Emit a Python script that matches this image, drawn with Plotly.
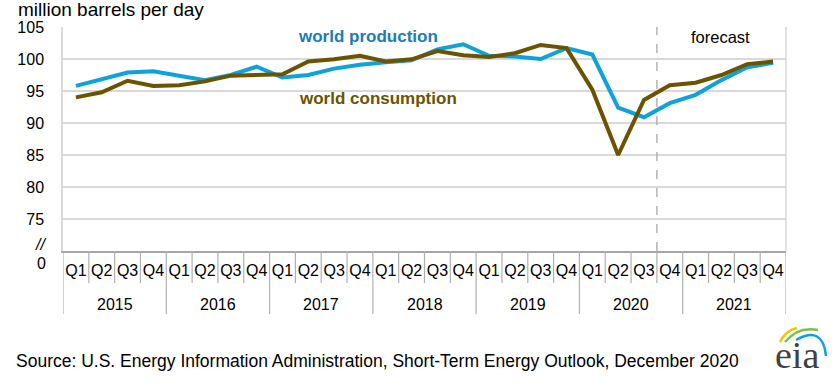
import plotly.graph_objects as go

years = ["2015", "2016", "2017", "2018", "2019", "2020", "2021"]
quarters = ["Q1", "Q2", "Q3", "Q4"]
production = [95.8, 96.9, 97.9, 98.1, 97.4, 96.7, 97.5, 98.8,
              97.1, 97.5, 98.5, 99.1, 99.5, 99.8, 101.5, 102.3,
              100.5, 100.4, 100.0, 101.7, 100.7, 92.4, 90.9, 93.1,
              94.4, 96.7, 98.7, 99.4]
consumption = [94.0, 94.8, 96.6, 95.8, 95.9, 96.5, 97.4, 97.5,
               97.6, 99.6, 99.95, 100.5, 99.6, 99.95, 101.25, 100.6,
               100.3, 100.9, 102.2, 101.7, 95.2, 85.0, 93.6, 95.9,
               96.3, 97.5, 99.2, 99.6]
y_ticks = [75, 80, 85, 90, 95, 100, 105]
forecast_start = 23  # index of first forecast quarter (2020 Q4)

W, H = 832, 387
ML, MR, MT, MB = 63, 46, 27, 136
PW, PH = W - ML - MR, H - MT - MB

def px(x):
    return (x - ML) / PW

def py(y):
    return (H - MB - y) / PH

n = len(years) * len(quarters)
x_idx = list(range(n))
q_labels = [q for _ in years for q in quarters]

BLUE = "#0ea2dc"
BROWN = "#6b5300"
FONT = "Liberation Sans, Arial, sans-serif"

fig = go.Figure()
fig.add_trace(go.Scatter(x=x_idx, y=production, mode="lines",
                         line=dict(color=BLUE, width=4), name="world production",
                         hoverinfo="skip"))
fig.add_trace(go.Scatter(x=x_idx, y=consumption, mode="lines",
                         line=dict(color=BROWN, width=4), name="world consumption",
                         hoverinfo="skip"))

shapes = []
for k in range(n + 1):
    xb = k - 0.5
    y1 = py(314) if k % 4 == 0 else py(283)
    shapes.append(dict(type="line", xref="x", yref="paper", x0=xb, x1=xb,
                       y0=0, y1=y1, line=dict(color="#b0b0b0", width=1.2)))
shapes.append(dict(type="line", xref="x", yref="paper",
                   x0=forecast_start - 0.5, x1=forecast_start - 0.5, y0=0, y1=1,
                   line=dict(color="#b4b4b4", width=1.5, dash="dash")))
shapes.append(dict(type="line", xref="paper", yref="paper", x0=1, x1=1, y0=0, y1=1,
                   line=dict(color="#d9d9d9", width=1.5)))

# EIA logo arcs
shapes.append(dict(type="path", xref="paper", yref="paper",
                   path=f"M {px(780)},{py(342)} Q {px(786)},{py(330)} {px(797)},{py(328)}",
                   line=dict(color="#f2c500", width=2.5)))
shapes.append(dict(type="path", xref="paper", yref="paper",
                   path=f"M {px(785)},{py(342)} Q {px(798)},{py(326)} {px(818)},{py(330)}",
                   line=dict(color="#7cc142", width=2.5)))
shapes.append(dict(type="path", xref="paper", yref="paper",
                   path=f"M {px(796)},{py(340)} Q {px(823)},{py(325)} {px(826)},{py(356)}",
                   line=dict(color="#0ea2dc", width=2.5)))

annotations = []
for i, yr in enumerate(years):
    annotations.append(dict(x=i * 4 + 1.5, y=py(304), xref="x", yref="paper",
                            text=yr, showarrow=False, yanchor="middle",
                            font=dict(size=16, color="#000", family=FONT)))
annotations += [
    dict(x=px(16), y=py(10), xref="paper", yref="paper", text="million barrels per day",
         showarrow=False, xanchor="left", yanchor="middle",
         font=dict(size=19, color="#000", family=FONT)),
    dict(x=px(296), y=py(37), xref="paper", yref="paper", text="<b>world production</b>",
         showarrow=False, xanchor="left", yanchor="middle",
         font=dict(size=17, color="#1a7db4", family=FONT)),
    dict(x=px(297), y=py(98), xref="paper", yref="paper", text="<b>world consumption</b>",
         showarrow=False, xanchor="left", yanchor="middle",
         font=dict(size=17, color=BROWN, family=FONT)),
    dict(x=px(720), y=py(37), xref="paper", yref="paper", text="forecast",
         showarrow=False, xanchor="center", yanchor="middle",
         font=dict(size=16.5, color="#000", family=FONT)),
    dict(x=px(48), y=py(244), xref="paper", yref="paper", text="<i>//</i>",
         showarrow=False, xanchor="right", yanchor="middle",
         font=dict(size=16, color="#000", family=FONT)),
    dict(x=px(48), y=py(263), xref="paper", yref="paper", text="0",
         showarrow=False, xanchor="right", yanchor="middle",
         font=dict(size=16, color="#000", family=FONT)),
    dict(x=px(14), y=py(361), xref="paper", yref="paper",
         text="Source: U.S. Energy Information Administration, Short-Term Energy Outlook, December 2020",
         showarrow=False, xanchor="left", yanchor="middle",
         font=dict(size=17.5, color="#000", family=FONT)),
    dict(x=px(797), y=py(355), xref="paper", yref="paper", text="eia",
         showarrow=False, xanchor="center", yanchor="middle",
         font=dict(size=38, color="#404040", family="Liberation Serif, Times New Roman, serif")),
]

fig.update_layout(
    width=W, height=H,
    margin=dict(l=ML, r=MR, t=MT, b=MB),
    paper_bgcolor="white", plot_bgcolor="white",
    showlegend=False,
    shapes=shapes, annotations=annotations,
    font=dict(family=FONT, size=16, color="#000"),
    xaxis=dict(range=[-0.5, n - 0.5], tickvals=x_idx, ticktext=q_labels,
               showgrid=False, zeroline=False, showline=True, linecolor="#a6a6a6",
               linewidth=2, ticks="", ticklabelstandoff=4, fixedrange=True,
               tickfont=dict(size=16, family=FONT, color="#000")),
    yaxis=dict(range=[70, 105], tickvals=y_ticks, ticktext=[str(v) for v in y_ticks],
               showgrid=True, gridcolor="#d9d9d9", gridwidth=1.5, zeroline=False,
               showline=True, linecolor="#d9d9d9", linewidth=1.5, ticks="",
               ticklabelstandoff=14, fixedrange=True,
               tickfont=dict(size=16, family=FONT, color="#000")),
)

fig.write_html("out.html", config={"displayModeBar": False},
               post_script="document.body.style.margin='0';document.body.style.overflow='hidden';")
